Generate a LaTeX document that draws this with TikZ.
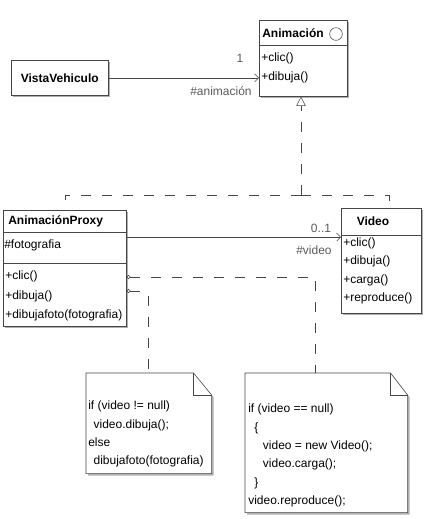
\documentclass[tikz,border=0pt]{standalone}
\usepackage{fontspec}
\setmainfont{Liberation Sans}
\usetikzlibrary{positioning,arrows.meta,shadows,calc}
\definecolor{colorline}  {RGB}{ 70, 70, 70}
\definecolor{colorshadow}{RGB}{175,175,175}
\definecolor{colorrole}  {RGB}{ 90, 90, 90}

\begin{document}
\begin{tikzpicture}[
    x=0.75pt, y=-0.75pt,
    font={\fontsize{9}{13.7}\selectfont},
    classbox/.style={draw=colorline,fill=white,anchor=north west,inner sep=0pt,
        drop shadow={shadow xshift=1.5pt,shadow yshift=-1.5pt,fill=colorshadow,opacity=1}},
    classtitle/.style={font={\fontsize{9}{13.7}\selectfont\bfseries},inner sep=0pt},
    member/.style={anchor=west,inner sep=0pt},
    rolelabel/.style={text=colorrole,inner sep=0pt},
    assoc/.style={draw=colorline,-{Straight Barb[length=3pt,width=6pt]}},
    realize/.style={draw=colorline,dash pattern=on 7.5pt off 8.25pt},
    notelink/.style={draw=colorline,dash pattern=on 7.5pt off 8.25pt,{Circle[open,length=3pt]}-},
    notebox/.style={anchor=north west,inner sep=0pt},
    notetext/.style={anchor=north west,align=left,inner sep=0pt},
]
    \useasboundingbox (0,0) rectangle (426,519);

    % classes
    \node[classbox,minimum width=72.75pt,minimum height=26.25pt,font={\fontsize{9}{13.7}\selectfont\bfseries}]
        (vista) at (11,60) {VistaVehiculo};

    \node[classbox,minimum width=66pt,minimum height=57pt] (anim) at (259,20) {};
    \draw[colorline] ($(anim.north west)+(0,25)$) -- ($(anim.north east)+(0,25)$);
    \node[classtitle] (animtitle) at (293,33) {Animación};
    \node[circle,draw=colorline,minimum size=9.5pt,inner sep=0pt] (animicon) at (336,34) {};
    \node[member] (animclic)   at (261,58) {+clic()};
    \node[member] (animdibuja) at (261,77) {+dibuja()};

    \node[classbox,minimum width=92.25pt,minimum height=87pt] (proxy) at (3,210) {};
    \draw[colorline] ($(proxy.north west)+(0,22)$) -- ($(proxy.north east)+(0,22)$);
    \draw[colorline] ($(proxy.north west)+(0,53)$) -- ($(proxy.north east)+(0,53)$);
    \node[classtitle,anchor=west] (proxytitle) at (8,221) {AnimaciónProxy};
    \node[member] (proxyfoto)    at (4,245) {\#fotografia};
    \node[member] (proxyclic)    at (5,276) {+clic()};
    \node[member] (proxydibuja)  at (5,296) {+dibuja()};
    \node[member] (proxydibfoto) at (5,315) {+dibujafoto(fotografia)};

    \node[classbox,minimum width=60pt,minimum height=78.75pt] (video) at (341,208) {};
    \draw[colorline] ($(video.north west)+(0,27)$) -- ($(video.north east)+(0,27)$);
    \node[classtitle] (videotitle) at (373,221) {Video};
    \node[member] (videoclic)    at (343,243) {+clic()};
    \node[member] (videodibuja)  at (343,261) {+dibuja()};
    \node[member] (videocarga)   at (343,280) {+carga()};
    \node[member] (videorepro)   at (343,298) {+reproduce()};

    % associations
    \draw[assoc] (vista.east) -- (anim.west |- vista.east);
    \node[rolelabel] (animmult) at (240,58) {1};
    \node[rolelabel] (animrole) at (221,91) {\#animación};

    \coordinate (videorow) at (0,237);
    \draw[assoc] (proxy.east |- videorow) -- (video.west |- videorow);
    \node[rolelabel] (videomult) at (321,228) {0..1};
    \node[rolelabel] (videorole) at (314,250) {\#video};

    % realization
    \coordinate (junction) at (301,195);
    \draw[realize] (junction) -| (proxy.north);
    \draw[realize] (junction) -| ([xshift=6pt]video.north);
    \draw[realize,-{Triangle[open,length=7pt,width=7pt]}] (junction) -- (junction |- anim.south);

    % notes
    \node[notebox,minimum width=93.75pt,minimum height=75pt] (note1) at (86,373) {};
    \fill[colorshadow] ($(note1.north west)+(2,2)$) -- ($(note1.north east)+(-16,2)$) -- ($(note1.north east)+(2,24)$)
        -- ($(note1.south east)+(2,2)$) -- ($(note1.south west)+(2,2)$) -- cycle;
    \draw[colorline,fill=white] (note1.north west) -- ($(note1.north east)+(-18,0)$) -- ($(note1.north east)+(0,22)$)
        -- (note1.south east) -- (note1.south west) -- cycle;
    \draw[colorline] ($(note1.north east)+(-18,0)$) |- ($(note1.north east)+(0,22)$);
    \node[notetext] (note1text) at (88,401)
        {if (video != null)\\\hspace*{4pt}video.dibuja();\\else\\\hspace*{4pt}dibujafoto(fotografia)};

    \node[notebox,minimum width=121.5pt,minimum height=104.25pt] (note2) at (245,373) {};
    \fill[colorshadow] ($(note2.north west)+(2,2)$) -- ($(note2.north east)+(-15,2)$) -- ($(note2.north east)+(2,24)$)
        -- ($(note2.south east)+(2,2)$) -- ($(note2.south west)+(2,2)$) -- cycle;
    \draw[colorline,fill=white] (note2.north west) -- ($(note2.north east)+(-17,0)$) -- ($(note2.north east)+(0,22)$)
        -- (note2.south east) -- (note2.south west) -- cycle;
    \draw[colorline] ($(note2.north east)+(-17,0)$) |- ($(note2.north east)+(0,22)$);
    \node[notetext] (note2text) at (248,404)
        {if (video == null)\\\hspace*{4.5pt}\{\\\hspace*{11pt}video = new Video();\\\hspace*{11pt}video.carga();\\\hspace*{4.5pt}\}\\video.reproduce();};

    % note links
    \coordinate (bend2) at (315,277);
    \coordinate (bend1) at (148,291);
    \draw[notelink] (proxy.east |- bend2) -- (bend2) -- (bend2 |- note2.north);
    \draw[notelink,rounded corners=2pt] (proxy.east |- bend1) -- (bend1) -- (bend1 |- note1.north);

\end{tikzpicture}
\end{document}
